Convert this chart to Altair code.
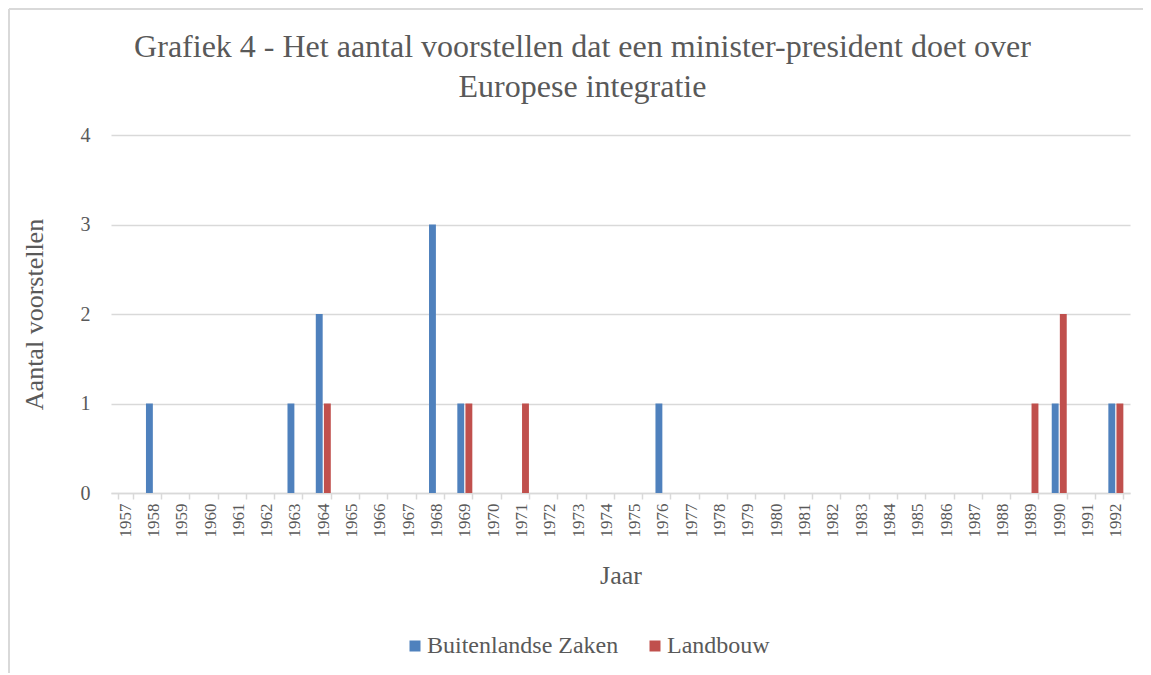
import altair as alt
import pandas as pd

years = list(range(1957, 1993))
buitenlandse_zaken = [0, 1, 0, 0, 0, 0, 1, 2, 0, 0, 0, 3, 1, 0, 0, 0, 0, 0, 0, 1,
                      0, 0, 0, 0, 0, 0, 0, 0, 0, 0, 0, 0, 0, 1, 0, 1]
landbouw = [0, 0, 0, 0, 0, 0, 0, 1, 0, 0, 0, 0, 1, 0, 1, 0, 0, 0, 0, 0,
            0, 0, 0, 0, 0, 0, 0, 0, 0, 0, 0, 0, 1, 2, 0, 1]
series = ["Buitenlandse Zaken", "Landbouw"]
colors = ["#4F81BD", "#C0504D"]
y_ticks = [0, 1, 2, 3, 4]
title_lines = ["Grafiek 4 - Het aantal voorstellen dat een minister-president doet over",
               "Europese integratie"]

rows = []
for i, yr in enumerate(years):
    rows.append({"Jaar": str(yr), "Reeks": series[0], "Aantal": buitenlandse_zaken[i]})
    rows.append({"Jaar": str(yr), "Reeks": series[1], "Aantal": landbouw[i]})
df = pd.DataFrame(rows)

FONT = "'Times New Roman', 'Liberation Serif', 'DejaVu Serif', serif"
TXT = "#595959"

bars = alt.Chart(df).mark_bar().encode(
    x=alt.X("Jaar:N", sort=[str(y) for y in years],
            scale=alt.Scale(paddingInner=0.47, paddingOuter=0.235),
            axis=alt.Axis(title="Jaar", tickBand="extent", labelAngle=270,
                          labelFontSize=17, labelColor=TXT, labelFont=FONT,
                          labelPadding=4, tickSize=6, tickColor="#D9D9D9",
                          domainColor="#D9D9D9", domainWidth=1.5, tickWidth=1.5,
                          titleFontSize=26, titleFont=FONT, titleColor=TXT,
                          titleFontWeight="normal", titlePadding=25)),
    xOffset=alt.XOffset("Reeks:N", sort=series,
                        scale=alt.Scale(paddingInner=0.15)),
    y=alt.Y("Aantal:Q", scale=alt.Scale(domain=[0, 4]),
            axis=alt.Axis(title="Aantal voorstellen", values=y_ticks,
                          ticks=False, domain=False, gridColor="#D9D9D9",
                          gridWidth=1.5, labelFontSize=20, labelColor=TXT,
                          labelFont=FONT, labelPadding=21, titleFontSize=26,
                          titleFont=FONT, titleColor=TXT, titleFontWeight="normal",
                          titlePadding=33, labelOverlap=False)),
    color=alt.Color("Reeks:N", sort=series,
                    scale=alt.Scale(domain=series, range=colors),
                    legend=alt.Legend(title=None, orient="none", legendX=292,
                                      legendY=499, direction="horizontal",
                                      symbolType="square", symbolSize=121,
                                      symbolStrokeWidth=0, labelFontSize=24,
                                      labelFont=FONT, labelColor=TXT,
                                      labelLimit=400, labelOffset=0,
                                      columnPadding=24)),
)

border_top = alt.Chart(df).mark_rule(color="#D9D9D9", strokeWidth=2).encode(
    x=alt.value(-102), x2=alt.value(1045), y=alt.value(-126))
border_left = alt.Chart(df).mark_rule(color="#D9D9D9", strokeWidth=2).encode(
    x=alt.value(-102), y=alt.value(-126), y2=alt.value(545))

chart = alt.layer(border_top, border_left, bars).properties(
    width=1019, height=358,
    title=alt.Title(title_lines, fontSize=32, font=FONT, color=TXT,
                    fontWeight="normal", anchor="middle", frame="group", dx=-38,
                    offset=-96, lineHeight=40),
    autosize=alt.AutoSizeParams(type="none"),
    padding={"left": 103, "top": 127, "right": 13, "bottom": 180},
).configure_view(stroke=None)

chart.save("out.html", embed_options={"renderer": "svg", "actions": False})
